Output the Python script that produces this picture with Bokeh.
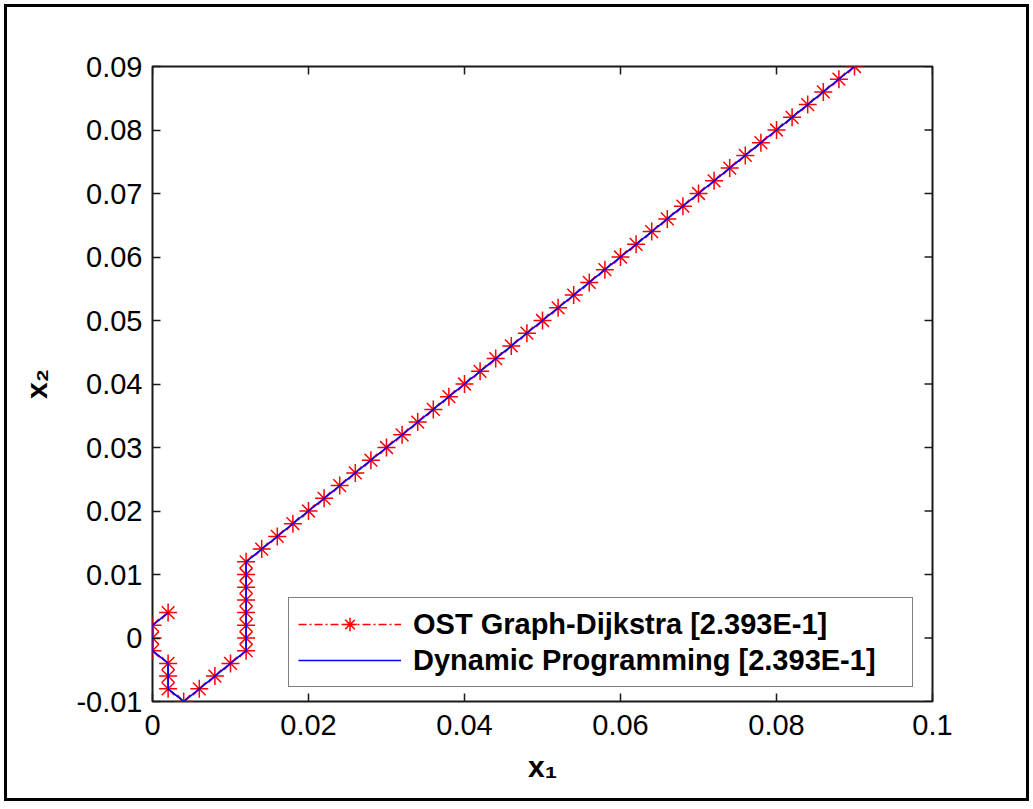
from bokeh.plotting import figure
from bokeh.models import Range1d, FixedTicker, Legend, LegendItem
from bokeh.embed import file_html
from bokeh.resources import INLINE

# Optimal trajectory in the (x1, x2) state plane
ost_x1 = [0.002, 0.000, 0.000, 0.000, 0.002, 0.002, 0.002, 0.004, 0.006, 0.008,
          0.010, 0.012, 0.012, 0.012, 0.012, 0.012, 0.012, 0.012, 0.012,
          0.014, 0.016, 0.018, 0.020, 0.022, 0.024, 0.026, 0.028, 0.030, 0.032,
          0.034, 0.036, 0.038, 0.040, 0.042, 0.044, 0.046, 0.048, 0.050, 0.052,
          0.054, 0.056, 0.058, 0.060, 0.062, 0.064, 0.066, 0.068, 0.070, 0.072,
          0.074, 0.076, 0.078, 0.080, 0.082, 0.084, 0.086, 0.088, 0.090]
ost_x2 = [0.004, 0.002, 0.000, -0.002, -0.004, -0.006, -0.008, -0.010, -0.008, -0.006,
          -0.004, -0.002, 0.000, 0.002, 0.004, 0.006, 0.008, 0.010, 0.012,
          0.014, 0.016, 0.018, 0.020, 0.022, 0.024, 0.026, 0.028, 0.030, 0.032,
          0.034, 0.036, 0.038, 0.040, 0.042, 0.044, 0.046, 0.048, 0.050, 0.052,
          0.054, 0.056, 0.058, 0.060, 0.062, 0.064, 0.066, 0.068, 0.070, 0.072,
          0.074, 0.076, 0.078, 0.080, 0.082, 0.084, 0.086, 0.088, 0.090]

# Dynamic programming finds the same path
dp_x1 = list(ost_x1)
dp_x2 = list(ost_x2)

series_labels = ["OST Graph-Dijkstra [2.393E-1]", "Dynamic Programming [2.393E-1]"]

x_ticks = [0.0, 0.02, 0.04, 0.06, 0.08, 0.1]
x_tick_labels = ["0", "0.02", "0.04", "0.06", "0.08", "0.1"]
y_ticks = [-0.01, 0.0, 0.01, 0.02, 0.03, 0.04, 0.05, 0.06, 0.07, 0.08, 0.09]
y_tick_labels = ["-0.01", "0", "0.01", "0.02", "0.03", "0.04", "0.05", "0.06",
                 "0.07", "0.08", "0.09"]

FONT = "Liberation Sans"
CANVAS_W, CANVAS_H = 1033, 805
FRAME_L, FRAME_T, FRAME_W, FRAME_H = 152, 66, 780, 635
FRAME_B = FRAME_T + FRAME_H
X0, X1, Y0, Y1 = 0.0, 0.1, -0.01, 0.09
TICK = 8  # inward tick length, px

p = figure(frame_width=FRAME_W, frame_height=FRAME_H,
           min_border_left=FRAME_L, min_border_right=CANVAS_W - FRAME_L - FRAME_W,
           min_border_top=FRAME_T, min_border_bottom=CANVAS_H - FRAME_B,
           x_range=Range1d(X0, X1), y_range=Range1d(Y0, Y1),
           x_axis_label="x\u2081", y_axis_label="x\u2082",
           output_backend="svg", toolbar_location=None,
           background_fill_color="white", border_fill_alpha=0)
# page frame around the whole figure
p.styles = {"box-shadow": "inset 0 0 0 4px white, inset 0 0 0 7px black",
            "background-color": "white"}
p.grid.visible = False
p.outline_line_color = "#1a1a1a"
p.outline_line_width = 2

def style_axis(ax, ticks, labels):
    ax.ticker = FixedTicker(ticks=ticks)
    ax.major_label_overrides = {t: s for t, s in zip(ticks, labels)}
    ax.axis_line_color = None
    ax.major_tick_in = TICK
    ax.major_tick_out = 0
    ax.major_tick_line_color = "#1a1a1a"
    ax.major_tick_line_width = 1.5
    ax.minor_tick_line_color = None
    ax.major_label_text_font = FONT
    ax.major_label_text_font_size = "29px"
    ax.major_label_text_color = "black"
    ax.axis_label_text_font = FONT
    ax.axis_label_text_font_style = "bold"
    ax.axis_label_text_font_size = "30px"
    ax.axis_label_text_color = "black"

style_axis(p.xaxis[0], x_ticks, x_tick_labels)
style_axis(p.yaxis[0], y_ticks, y_tick_labels)
p.xaxis[0].major_label_standoff = 13
p.yaxis[0].major_label_standoff = 10
p.xaxis[0].axis_label_standoff = 12
p.yaxis[0].axis_label_standoff = 20

# Box ticks on the top and right edges
tx = TICK * (X1 - X0) / FRAME_W
ty = TICK * (Y1 - Y0) / FRAME_H
p.segment(x0=x_ticks, y0=[Y1] * len(x_ticks), x1=x_ticks, y1=[Y1 - ty] * len(x_ticks),
          line_color="#1a1a1a", line_width=1.5)
p.segment(x0=[X1] * len(y_ticks), y0=y_ticks, x1=[X1 - tx] * len(y_ticks), y1=y_ticks,
          line_color="#1a1a1a", line_width=1.5)

# Curves
ost_line = p.line(ost_x1, ost_x2, line_color="red", line_width=1.5,
                  line_dash="8 3 2 3")
ost_pts = p.scatter(ost_x1, ost_x2, marker="asterisk", size=18,
                    line_color="red", line_width=1.5)
dp_line = p.line(dp_x1, dp_x2, line_color="#0000ff", line_width=1.6)

legend = Legend(items=[LegendItem(label=series_labels[0], renderers=[ost_line, ost_pts]),
                       LegendItem(label=series_labels[1], renderers=[dp_line])],
                location=(136, 14), margin=0, padding=9, spacing=2,
                glyph_width=103, glyph_height=34, label_height=34,
                label_width=490, label_standoff=12,
                label_text_font=FONT, label_text_font_style="bold",
                label_text_font_size="29px", label_text_color="black",
                border_line_color="black", border_line_width=1.2,
                background_fill_color="white", background_fill_alpha=1.0)
p.add_layout(legend)

open("out.html", "w").write(file_html(p, INLINE))
